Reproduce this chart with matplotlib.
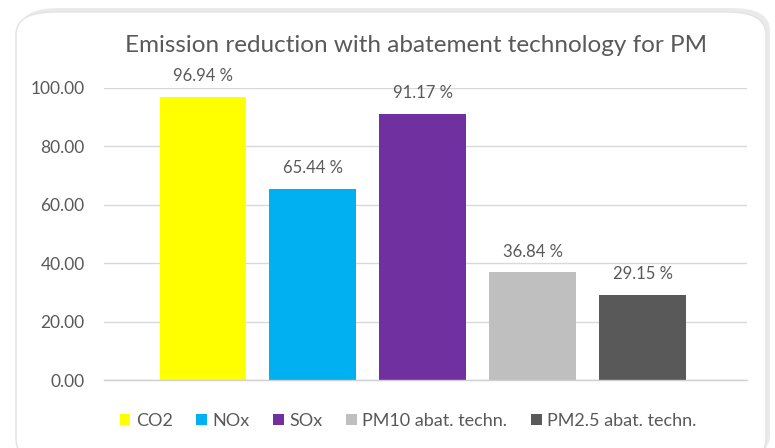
import matplotlib.pyplot as plt
from matplotlib.patches import FancyBboxPatch, Patch

categories = ["CO2", "NOx", "SOx", "PM10 abat. techn.", "PM2.5 abat. techn."]
values = [96.94, 65.44, 91.17, 36.84, 29.15]
colors = ["#FFFF00", "#00B0F0", "#7030A0", "#BFBFBF", "#595959"]
yticks = [0, 20, 40, 60, 80, 100]

plt.rcParams['font.family'] = ['Lato', 'DejaVu Sans']
text_color = "#595959"

fig = plt.figure(figsize=(7.75, 4.48), dpi=100)
W, H = 775, 448

# chart frame with soft shadow
shadow = FancyBboxPatch((20 / W, -10 / H), 750 / W, 450 / H,
                        boxstyle="round,pad=0,rounding_size=0.05",
                        transform=fig.transFigure, facecolor="#EAEAEA",
                        edgecolor="none", zorder=-2)
frame = FancyBboxPatch((16 / W, -14 / H), 750 / W, 450 / H,
                       boxstyle="round,pad=0,rounding_size=0.05",
                       transform=fig.transFigure, facecolor="white",
                       edgecolor="#E3E3E3", linewidth=1, zorder=-1)
fig.patches.extend([shadow, frame])

ax = fig.add_axes([104 / W, 1 - 380 / H, (747 - 104) / W, (380 - 88) / H])
ax.set_zorder(2)
ax.set_facecolor("none")

x = list(range(len(categories)))
bars = ax.bar(x, values, width=0.79, color=colors, zorder=3)
for b, v in zip(bars, values):
    ax.annotate(f"{v:.2f} %", (b.get_x() + b.get_width() / 2, v),
                xytext=(0, 9), textcoords="offset points",
                ha="center", va="bottom", fontsize=12, color=text_color)

ax.set_xlim(-0.9, 4.95)
ax.set_ylim(0, 100)
ax.set_yticks(yticks)
ax.set_yticklabels([f"{t:.2f}" for t in yticks], fontsize=12.5, color=text_color)
ax.set_xticks([])
ax.tick_params(axis="y", length=0, pad=14)
ax.grid(axis="y", color="#D9D9D9", linewidth=1, zorder=0)
ax.set_axisbelow(True)
for s in ["top", "right", "left"]:
    ax.spines[s].set_visible(False)
ax.spines["bottom"].set_color("#D0D0D0")
ax.spines["bottom"].set_linewidth(1)
ax.spines["bottom"].set_zorder(4)

fig.text(416 / W, 1 - 45 / H, "Emission reduction with abatement technology for PM",
         ha="center", va="center", fontsize=17.5, color=text_color)

handles = [Patch(facecolor=c, edgecolor="none") for c in colors]
fig.legend(handles, categories, loc="center", bbox_to_anchor=(408 / W, 1 - 421 / H),
           ncol=5, frameon=False, fontsize=13, labelcolor=text_color,
           handlelength=0.6, handleheight=0.6, handletextpad=0.3, columnspacing=1.3)

plt.savefig("out.png", dpi=100)
